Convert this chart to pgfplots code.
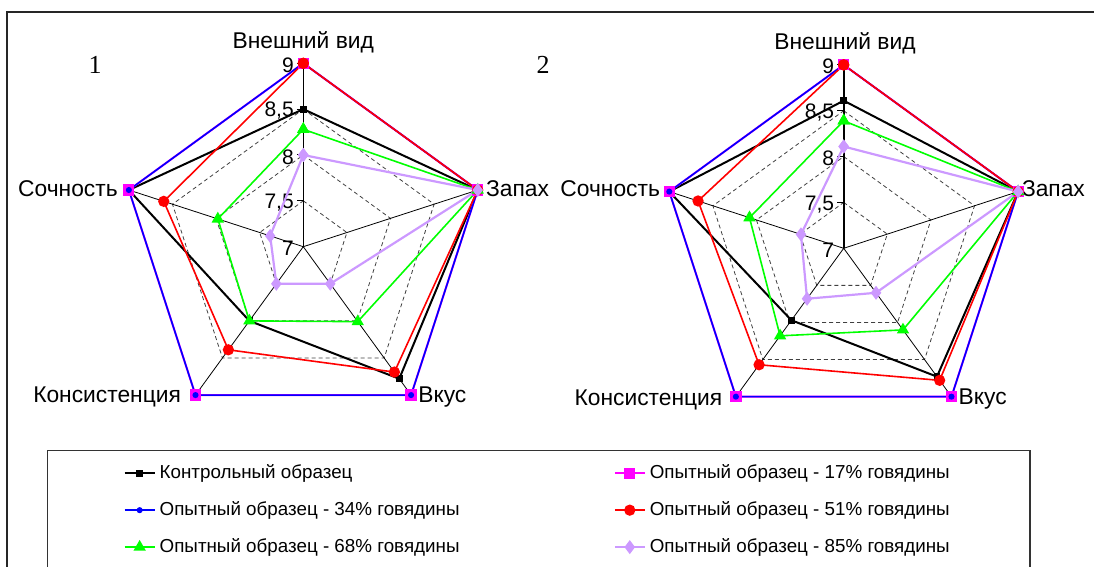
\documentclass[border=0pt]{standalone}
\usepackage{pgfplots}
\pgfplotsset{compat=1.18}
\usepackage{pgfplotstable}
\usepackage{fontspec}
\setmainfont{Liberation Sans}
\newfontfamily\serifnum{Liberation Serif}
\definecolor{lav}{RGB}{204,153,255}
\definecolor{mag}{RGB}{255,0,255}
\definecolor{grn}{RGB}{0,255,0}

% angle (deg) and score for each category; last row closes the polygon
\pgfplotstableread{
a ctrl s17 s34 s51 s68 s85
90 8.50 9 9 9 8.28 8.00
18 9 9 9 9 9 9
-54 8.78 9 9 8.69 8.01 7.50
-126 8.00 9 9 8.39 8.00 7.50
162 9 9 9 8.60 7.98 7.38
90 8.50 9 9 9 8.28 8.00
}\tabA
\pgfplotstableread{
a ctrl s17 s34 s51 s68 s85
90 8.61 9 9 9 8.39 8.11
18 9 9 9 9 9 9
-54 8.73 9 9 8.78 8.10 7.60
-126 7.97 9 9 8.57 8.18 7.68
162 9 9 9 8.67 8.08 7.49
90 8.61 9 9 9 8.39 8.11
}\tabB
\pgfplotstableread{
a g1 g2 g3 g4
90 7.5 8 8.5 9
18 7.5 8 8.5 9
-54 7.5 8 8.5 9
-126 7.5 8 8.5 9
162 7.5 8 8.5 9
90 7.5 8 8.5 9
}\tabGrid
\pgfplotstableread{
a v
18 9
18 7
-54 9
-54 7
-126 9
-126 7
162 9
162 7
}\tabSpokes
\pgfplotstableread{
a v
90 7
90 9
}\tabVert

\newcommand{\radplot}[3]{\addplot[#1] table[x expr={(\thisrow{#3}-7)*cos(\thisrow{a})}, y expr={(\thisrow{#3}-7)*sin(\thisrow{a})}] {#2};}

\tikzset{
  lbl/.style={font=\fontsize{11.4}{13}\selectfont},
  tkl/.style={anchor=east, inner sep=0pt, font=\fontsize{10.5}{12}\selectfont},
}
\pgfplotsset{
  sctrl/.style={black, line width=1pt, mark=square*, mark size=1.2pt, mark options={solid}},
  s17/.style={mag, line width=1pt, mark=square*, mark size=2.3pt, mark options={solid}},
  s34/.style={blue, line width=0.8pt, mark=*, mark size=1.1pt, mark options={solid}},
  s51/.style={red, line width=0.8pt, mark=*, mark size=2.4pt, mark options={solid}},
  s68/.style={grn, line width=0.8pt, mark=triangle*, mark size=2.8pt, mark options={solid}},
  s85/.style={lav, line width=1.1pt, mark=diamond*, mark size=2.6pt, mark options={solid}},
  gridd/.style={black!75, line width=0.4pt, dash pattern=on 2pt off 1.5pt, no marks, forget plot},
  radar/.style={hide axis, x=45.85pt, y=45.85pt, xmin=-2.2, xmax=2.2, ymin=-2.2, ymax=2.2,
     clip=false, anchor=origin},
}

\newcommand{\gridlayer}{%
  \radplot{gridd}{\tabGrid}{g1}
  \radplot{gridd}{\tabGrid}{g2}
  \radplot{gridd}{\tabGrid}{g3}
  \radplot{black!60, line width=0.4pt, no marks, forget plot}{\tabGrid}{g4}
  \radplot{black, line width=0.4pt, no marks, forget plot}{\tabSpokes}{v}
  \radplot{black, line width=0.8pt, no marks, forget plot}{\tabVert}{v}
  \draw[black, line width=0.5pt] (axis cs:-0.07,0.5) -- (axis cs:0,0.5);
  \draw[black, line width=0.5pt] (axis cs:-0.07,1) -- (axis cs:0,1);
  \draw[black, line width=0.5pt] (axis cs:-0.07,1.5) -- (axis cs:0,1.5);
  \draw[black, line width=0.5pt] (axis cs:-0.07,2) -- (axis cs:0,2);
  \node[tkl] at (axis cs:-0.1,-0.02) {7};
  \node[tkl] at (axis cs:-0.1,0.48) {7,5};
  \node[tkl] at (axis cs:-0.1,0.98) {8};
  \node[tkl] at (axis cs:-0.1,1.48) {8,5};
  \node[tkl] at (axis cs:-0.1,1.98) {9};
}

\begin{document}
\begin{tikzpicture}
\useasboundingbox (0,0) rectangle (547pt,283.5pt);
\begin{scope}[x=0.5pt, y=-0.5pt, shift={(0pt,283.5pt)}]
  \draw[black!85, line width=0.8pt] (7,567) -- (7,12) -- (1094,12);
  \node[font=\serifnum\fontsize{13}{15}\selectfont] at (95,65) {1};
  \node[font=\serifnum\fontsize{13}{15}\selectfont] at (543,65) {2};
\end{scope}

\begin{axis}[radar, at={(151.65pt,160.15pt)},
  legend columns=2,
  legend cell align=left,
  legend image code/.code={\draw[mark repeat=2,mark phase=2] plot coordinates {(0pt,0pt) (7.5pt,0pt) (15pt,0pt)};},
  legend style={at={(-0.1353,-0.004)}, anchor=north west, draw=black!80, line width=0.7pt,
     font=\fontsize{9.4}{11}\selectfont, inner xsep=38pt, inner ysep=5pt,
     /tikz/row sep=6pt,
     /tikz/every even column/.append style={column sep=0pt}},
]
\gridlayer
\radplot{sctrl}{\tabA}{ctrl}
\addlegendentry{\makebox[225pt][l]{Контрольный образец}}
\radplot{s17}{\tabA}{s17}
\addlegendentry{\makebox[150pt][l]{Опытный образец - 17\% говядины}}
\radplot{s34}{\tabA}{s34}
\addlegendentry{\makebox[225pt][l]{Опытный образец - 34\% говядины}}
\radplot{s51}{\tabA}{s51}
\addlegendentry{\makebox[150pt][l]{Опытный образец - 51\% говядины}}
\radplot{s68}{\tabA}{s68}
\addlegendentry{\makebox[225pt][l]{Опытный образец - 68\% говядины}}
\radplot{s85}{\tabA}{s85}
\addlegendentry{\makebox[150pt][l]{Опытный образец - 85\% говядины}}
\node[lbl, anchor=center] at (axis cs:0,2.23) {Внешний вид};
\node[lbl, anchor=west, inner sep=0pt] at (axis cs:1.99,0.63) {Запах};
\node[lbl, anchor=west, inner sep=0pt] at (axis cs:1.25,-1.64) {Вкус};
\node[lbl, anchor=east, inner sep=0pt] at (axis cs:-1.33,-1.64) {Консистенция};
\node[lbl, anchor=east, inner sep=0pt] at (axis cs:-2.02,0.63) {Сочность};
\end{axis}

\begin{axis}[radar, at={(421.85pt,159.35pt)}]
\gridlayer
\radplot{sctrl}{\tabB}{ctrl}
\radplot{s17}{\tabB}{s17}
\radplot{s34}{\tabB}{s34}
\radplot{s51}{\tabB}{s51}
\radplot{s68}{\tabB}{s68}
\radplot{s85}{\tabB}{s85}
\node[lbl, anchor=center] at (axis cs:0.014,2.24) {Внешний вид};
\node[lbl, anchor=west, inner sep=0pt] at (axis cs:1.94,0.647) {Запах};
\node[lbl, anchor=west, inner sep=0pt] at (axis cs:1.25,-1.64) {Вкус};
\node[lbl, anchor=east, inner sep=0pt] at (axis cs:-1.32,-1.655) {Консистенция};
\node[lbl, anchor=east, inner sep=0pt] at (axis cs:-2.0,0.647) {Сочность};
\end{axis}
\end{tikzpicture}
\end{document}
